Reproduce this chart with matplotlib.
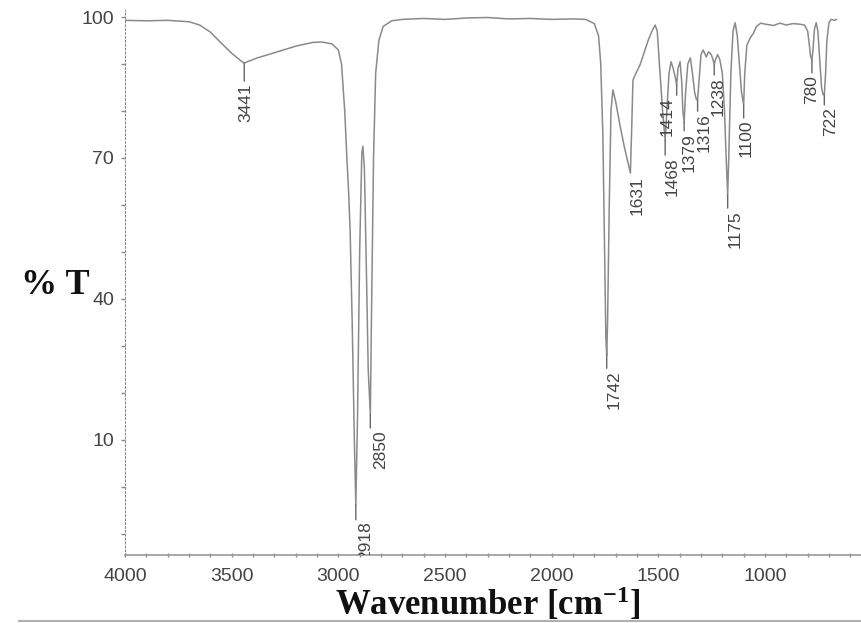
import numpy as np
import matplotlib
matplotlib.use("Agg")
import matplotlib.pyplot as plt
from matplotlib.lines import Line2D
from matplotlib.ticker import MultipleLocator, FixedLocator

# IR spectrum (wavenumber cm-1, %T)
wavenumber = [4000, 3900, 3800, 3700, 3650, 3600, 3550, 3500, 3460, 3441, 3420,
              3380, 3300, 3200, 3120, 3080, 3030, 3000, 2985, 2970, 2960, 2952,
              2945, 2935, 2925, 2918, 2910, 2900, 2890, 2885, 2878, 2868, 2860,
              2850, 2845, 2835, 2825, 2810, 2790, 2750, 2700, 2600, 2500, 2400,
              2300, 2200, 2100, 2000, 1900, 1840, 1800, 1780, 1770, 1760, 1752,
              1746, 1742, 1738, 1730, 1722, 1713, 1700, 1680, 1660, 1645, 1631,
              1625, 1619, 1600, 1586, 1548, 1530, 1515, 1505, 1495, 1480, 1468,
              1460, 1450, 1440, 1430, 1420, 1414, 1408, 1398, 1390, 1385, 1379,
              1372, 1362, 1350, 1340, 1330, 1322, 1316, 1310, 1300, 1290, 1275,
              1265, 1252, 1244, 1238, 1232, 1222, 1212, 1200, 1190, 1182, 1175,
              1170, 1160, 1150, 1140, 1130, 1120, 1110, 1100, 1095, 1085, 1070,
              1055, 1040, 1020, 1000, 960, 930, 900, 870, 840, 815, 800, 792,
              786, 780, 775, 768, 760, 752, 745, 735, 728, 722, 716, 710, 700,
              690, 675, 665]
transmittance = [99.3, 99.2, 99.3, 99.0, 98.3, 96.8, 94.5, 92.3, 90.8, 90.2, 90.6,
                 91.3, 92.4, 93.8, 94.6, 94.7, 94.3, 93.0, 90.0, 80.0, 70.0, 63.0,
                 55.0, 35.0, 10.0, -3.8, 15.0, 50.0, 71.0, 72.5, 68.0, 45.0, 25.0,
                 15.3, 35.0, 70.0, 88.0, 95.0, 98.0, 99.2, 99.5, 99.7, 99.5, 99.8,
                 99.9, 99.6, 99.7, 99.5, 99.6, 99.5, 98.6, 96.0, 90.0, 75.0, 50.0,
                 32.0, 28.0, 35.0, 60.0, 80.0, 84.5, 82.0, 77.0, 72.5, 69.5, 66.8,
                 76.0, 86.6, 88.5, 89.8, 95.0, 97.0, 98.3, 97.0, 90.0, 80.0, 73.8,
                 80.0, 88.0, 90.5, 89.0, 87.0, 85.5, 89.0, 90.5, 86.0, 80.0, 77.7,
                 84.0, 90.0, 91.3, 88.0, 84.0, 82.5, 82.3, 86.0, 92.0, 93.0, 91.5,
                 92.6, 92.0, 91.0, 89.8, 91.0, 92.0, 91.0, 88.0, 80.0, 70.0, 62.1,
                 70.0, 88.0, 97.0, 98.8, 96.0, 90.0, 84.0, 81.3, 88.0, 94.0, 95.5,
                 96.5, 98.0, 98.7, 98.5, 98.2, 98.7, 98.3, 98.6, 98.5, 98.3, 97.0,
                 94.0, 91.5, 90.9, 93.0, 97.5, 98.8, 97.0, 92.0, 85.0, 83.5, 83.4,
                 88.0, 95.0, 98.8, 99.5, 99.3, 99.5]

# labelled peaks
peak_wn = [3441, 2918, 2850, 1742, 1631, 1468, 1414, 1379, 1316, 1238, 1175,
           1100, 780, 722]
peak_text = ["3441", "2918", "2850", "1742", "1631", "1468", "1414", "1379",
             "1316", "1238", "1175", "1100", "780", "722"]

# label offsets from the peak, in pixels (dx right, dy down)
label_dx = [2, 10, 10, 7, 7, 7, -10, 5, 7, 4, 7, 2, 0, 6]
label_dy = [20, 17, 15, 15, 3, 17, 12, 11, 13, 12, 15, 15, 15, 12]

W, H = 861, 623
fig = plt.figure(figsize=(W / 100, H / 100), dpi=100, facecolor="white")
ax = fig.add_axes([125 / W, 1 - 555 / H, (W - 125) / W, (555 - 10) / H])

ax.plot(wavenumber, transmittance, color="#8a8a8a", linewidth=1.1)
ax.set_xlim(4000, 550)
ax.set_ylim(-14.5, 101.5)

# peak labels with short leader lines
wn_arr = np.array(wavenumber)[::-1]
t_arr = np.array(transmittance)[::-1]
px2pt = 0.72
for wn, txt, dx, dy in zip(peak_wn, peak_text, label_dx, label_dy):
    tp = float(np.interp(wn, wn_arr, t_arr))
    if dy > 4:
        ax.annotate("", xy=(wn, tp), xytext=(0, -(dy - 2) * px2pt),
                    textcoords="offset points",
                    arrowprops=dict(arrowstyle="-", color="#666666", lw=1.0,
                                    shrinkA=0, shrinkB=0))
    t = ax.annotate(txt, xy=(wn, tp), xytext=(dx * px2pt, -dy * px2pt),
                    textcoords="offset points", rotation=90, ha="center",
                    va="top", fontsize=12.5, color="#444444",
                    family="Liberation Sans", annotation_clip=False)
    t.set_clip_path(ax.patch)

# axes styling
for side in ["top", "right"]:
    ax.spines[side].set_visible(False)
ax.spines["left"].set_color("#8a8a8a")
ax.spines["left"].set_linestyle((0, (1.5, 2)))
ax.spines["bottom"].set_color("#9a9a9a")
ax.spines["bottom"].set_linewidth(1.2)

ax.xaxis.set_major_locator(FixedLocator([4000, 3500, 3000, 2500, 2000, 1500, 1000]))
ax.xaxis.set_minor_locator(MultipleLocator(100))
ax.yaxis.set_major_locator(FixedLocator([10, 40, 70, 100]))
ax.yaxis.set_minor_locator(MultipleLocator(10))
ax.tick_params(axis="both", which="both", colors="#8a8a8a", labelcolor="#444444",
               labelsize=14, length=3, width=1)
ax.tick_params(axis="x", which="both", direction="inout", pad=8)
ax.tick_params(axis="y", which="both", direction="out", pad=5)
for lab in ax.get_xticklabels() + ax.get_yticklabels():
    lab.set_family("Liberation Sans")

# axis titles
fig.text(55 / W, 1 - 285 / H, "% T", fontsize=26, fontweight="bold",
         family="Liberation Serif", ha="center", va="center", color="#111111")
plt.rcParams["mathtext.fontset"] = "custom"
plt.rcParams["mathtext.rm"] = "Liberation Serif:bold"
plt.rcParams["mathtext.it"] = "Liberation Serif:bold"
plt.rcParams["mathtext.bf"] = "Liberation Serif:bold"
fig.text(488 / W, 1 - 604 / H, r"Wavenumber [cm$^{\mathrm{-1}}$]", fontsize=25,
         fontweight="bold", family="Liberation Serif", ha="center",
         va="center", color="#111111")

# thin rule below the figure
fig.add_artist(Line2D([19 / W, 1.0], [1 - 621 / H, 1 - 621 / H],
                      color="#b0b0b0", linewidth=1.5))

fig.savefig("out.png", dpi=100, facecolor="white")
